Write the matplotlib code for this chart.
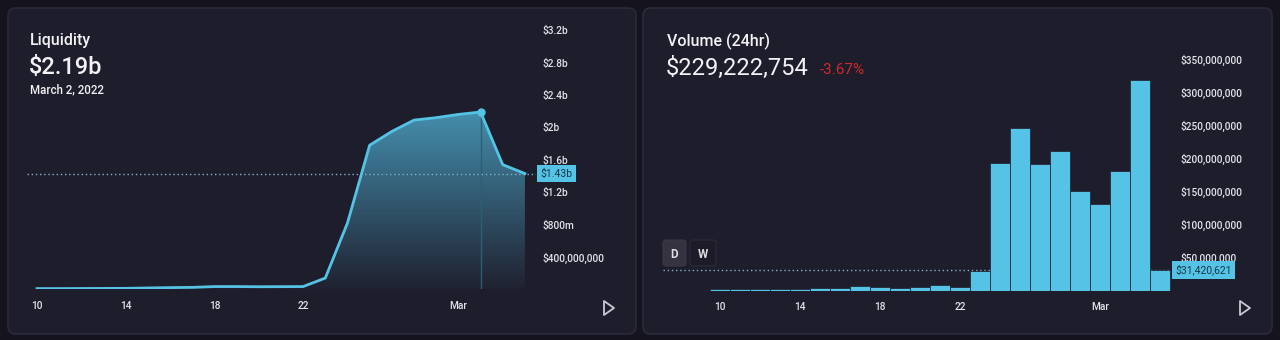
import numpy as np
import matplotlib
matplotlib.use("Agg")
import matplotlib.pyplot as plt
from matplotlib.patches import FancyBboxPatch, Polygon
from matplotlib.transforms import blended_transform_factory

plt.rcParams['font.family'] = ['Roboto', 'DejaVu Sans']

# data: Feb 10 .. Mar 4, 2022 (index 0 = Feb 10)
days = list(range(23))
xtick_pos = [0, 4, 8, 12, 19]
xtick_lab = ["10", "14", "18", "22", "Mar"]

# liquidity in billions of $
liquidity = [0.010, 0.010, 0.011, 0.012, 0.013, 0.018, 0.022, 0.025, 0.035, 0.035,
             0.033, 0.034, 0.035, 0.14, 0.82, 1.78, 1.95, 2.09, 2.12, 2.16,
             2.19, 1.54, 1.43]
liq_ticks = [0.4, 0.8, 1.2, 1.6, 2.0, 2.4, 2.8, 3.2]
liq_labels = ["$400,000,000", "$800m", "$1.2b", "$1.6b", "$2b", "$2.4b", "$2.8b", "$3.2b"]

# 24h volume in millions of $
volume = [2.2, 2.3, 2.2, 2.4, 2.5, 3.4, 4.4, 6.3, 6.0, 4.5,
          6.0, 8.6, 5.6, 29.3, 193, 246, 191, 211, 151, 131,
          181, 319, 31.42]
vol_ticks = [50, 100, 150, 200, 250, 300, 350]
vol_labels = ["$50,000,000", "$100,000,000", "$150,000,000", "$200,000,000",
              "$250,000,000", "$300,000,000", "$350,000,000"]

W, H = 1280, 340
outer_bg = '#15141e'
panel_bg = '#1e1d2b'
panel_edge = '#2b2a3a'
blue = '#55c3e5'
txt = '#f2f2f6'
ticktxt = '#e2e2ea'

fig = plt.figure(figsize=(W / 100, H / 100), dpi=100, facecolor=outer_bg)


def px(x0, y0, x1, y1):
    return [x0 / W, 1 - y1 / H, (x1 - x0) / W, (y1 - y0) / H]


# background layer in pixel coords
bg = fig.add_axes([0, 0, 1, 1], zorder=0)
bg.set_xlim(0, W)
bg.set_ylim(H, 0)
bg.axis('off')
for x0, x1 in [(8, 636), (643, 1272)]:
    bg.add_patch(FancyBboxPatch((x0, 8), x1 - x0, 326,
                                boxstyle='round,pad=0,rounding_size=8',
                                fc=panel_bg, ec=panel_edge, lw=1.2))

bg.text(30, 41, "Liquidity", color=txt, fontsize=11.5, va='center', ha='left', fontweight='medium')
bg.text(29, 67, "$2.19b", color=txt, fontsize=17, va='center', ha='left', fontweight='medium')
bg.text(30, 90, "March 2, 2022", color=txt, fontsize=8.3, va='center', ha='left', fontweight='medium')

bg.text(667, 41, "Volume (24hr)", color=txt, fontsize=11.5, va='center', ha='left', fontweight='medium')
bg.text(666, 68, "$229,222,754", color=txt, fontsize=17, va='center', ha='left')
bg.text(820, 70, "-3.67%", color='#d0282a', fontsize=11, va='center', ha='left')

# D / W buttons
bg.add_patch(FancyBboxPatch((663, 240), 23, 26, boxstyle='round,pad=0,rounding_size=3',
                            fc='#34333f', ec='#3a3946', lw=0.8))
bg.add_patch(FancyBboxPatch((690, 240), 26, 26, boxstyle='round,pad=0,rounding_size=3',
                            fc='#1c1b27', ec='#2d2c3b', lw=0.8))
bg.text(674.5, 254, "D", color='#dcdce4', fontsize=8.5, ha='center', va='center', fontweight='bold')
bg.text(703, 254, "W", color='#dcdce4', fontsize=8.5, ha='center', va='center', fontweight='bold')

# play icons
for xp in [604, 1240]:
    bg.add_patch(Polygon([(xp, 301), (xp, 315), (xp + 10, 308)], closed=True,
                         fill=False, ec='#c9c9d6', lw=1.3, joinstyle='round'))

# ---------------- liquidity ----------------
ax1 = fig.add_axes(px(27, 25, 536, 289.4), zorder=1)
ax1.patch.set_alpha(0)
poly = ax1.fill_between(days, liquidity, 0, color='none', lw=0)
ymax = max(liquidity)
grad = np.zeros((200, 2, 4))
grad[:, :, 0] = 0.33
grad[:, :, 1] = 0.74
grad[:, :, 2] = 0.89
grad[:, :, 3] = np.linspace(0.03, 0.72, 200)[:, None]
img = ax1.imshow(grad, extent=[days[0], days[-1], 0, ymax], origin='lower',
                 aspect='auto', zorder=1, interpolation='bilinear')
img.set_clip_path(poly.get_paths()[0], transform=ax1.transData)
ax1.vlines(20, 0, liquidity[20], color='#2c5e74', lw=1, zorder=2)
ax1.plot(days, liquidity, color=blue, lw=2, zorder=3, solid_joinstyle='round')
ax1.plot(20, liquidity[20], 'o', color=blue, ms=5, zorder=4)
ax1.axhline(liquidity[-1], color='#7fb2cc', lw=1, ls=(0, (1, 2)), zorder=2)
ax1.set_xlim(-0.45, 22.5)
ax1.set_ylim(0, 3.264)
ax1.yaxis.tick_right()
ax1.set_yticks(liq_ticks)
ax1.set_yticklabels(liq_labels)
ax1.set_xticks(xtick_pos)
ax1.set_xticklabels(xtick_lab)
ax1.tick_params(length=0, colors=ticktxt, labelsize=7.3)
ax1.tick_params(axis='y', pad=5)
ax1.tick_params(axis='x', pad=8)
for s in ax1.spines.values():
    s.set_visible(False)
for lab in ax1.get_xticklabels() + ax1.get_yticklabels():
    lab.set_fontweight('medium')
ax1.annotate("$1.43b", xy=(1, liquidity[-1]), xycoords=blended_transform_factory(ax1.transAxes, ax1.transData),
             xytext=(3, 0), textcoords='offset points', ha='left', va='center',
             fontsize=7.5, color='#17384a',
             bbox=dict(boxstyle='square,pad=0.35', fc=blue, ec='none'))

# ---------------- volume ----------------
ax2 = fig.add_axes(px(663, 40, 1171, 290.5), zorder=1)
ax2.patch.set_alpha(0)
ax2.axhline(volume[-1], color='#7fb2cc', lw=1, ls=(0, (1, 2)), zorder=1)
ax2.bar(days, volume, width=1.0, color=blue, edgecolor=panel_bg, lw=0.5, zorder=2)
ax2.set_xlim(-2.85, 22.55)
ax2.set_ylim(0, 379.5)
ax2.yaxis.tick_right()
ax2.set_yticks(vol_ticks)
ax2.set_yticklabels(vol_labels)
ax2.set_xticks(xtick_pos)
ax2.set_xticklabels(xtick_lab)
ax2.tick_params(length=0, colors=ticktxt, labelsize=7.3)
ax2.tick_params(axis='y', pad=7)
ax2.tick_params(axis='x', pad=8)
for s in ax2.spines.values():
    s.set_visible(False)
for lab in ax2.get_xticklabels() + ax2.get_yticklabels():
    lab.set_fontweight('medium')
ax2.annotate("$31,420,621", xy=(1, volume[-1]), xycoords=blended_transform_factory(ax2.transAxes, ax2.transData),
             xytext=(3, 0), textcoords='offset points', ha='left', va='center',
             fontsize=7.5, color='#17384a',
             bbox=dict(boxstyle='square,pad=0.35', fc=blue, ec='none'))

fig.savefig("out.png", dpi=100, facecolor=outer_bg)
